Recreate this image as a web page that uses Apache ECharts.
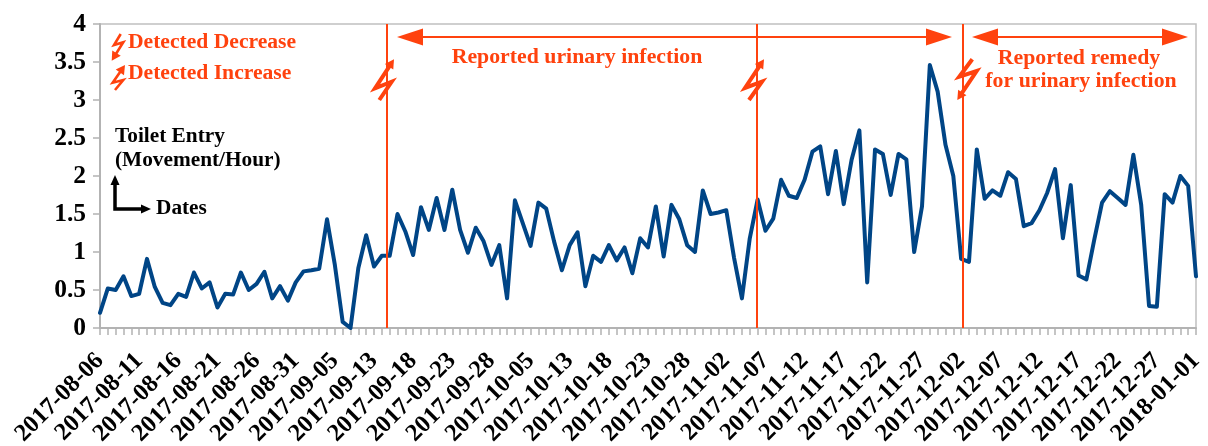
<!DOCTYPE html>
<html><head><meta charset="utf-8">
<style>html,body{margin:0;padding:0;background:#fff}#c{width:1208px;height:446px}</style>
<script src="https://cdn.jsdelivr.net/npm/echarts@6/dist/echarts.min.js"></script>
</head><body><div id="c"></div>
<script>
const dates = [
"2017-08-06","2017-08-07","2017-08-08","2017-08-09","2017-08-10","2017-08-11","2017-08-12","2017-08-13","2017-08-14","2017-08-15",
"2017-08-16","2017-08-17","2017-08-18","2017-08-19","2017-08-20","2017-08-21","2017-08-22","2017-08-23","2017-08-24","2017-08-25",
"2017-08-26","2017-08-27","2017-08-28","2017-08-29","2017-08-30","2017-08-31","2017-09-01","2017-09-02","2017-09-03","2017-09-04",
"2017-09-05","2017-09-06","2017-09-07","2017-09-10","2017-09-11","2017-09-13","2017-09-14","2017-09-15","2017-09-16","2017-09-17",
"2017-09-18","2017-09-19","2017-09-20","2017-09-21","2017-09-22","2017-09-23","2017-09-24","2017-09-25","2017-09-26","2017-09-27",
"2017-09-28","2017-09-29","2017-09-30","2017-10-01","2017-10-03","2017-10-05","2017-10-06","2017-10-08","2017-10-09","2017-10-11",
"2017-10-13","2017-10-14","2017-10-15","2017-10-16","2017-10-17","2017-10-18","2017-10-19","2017-10-20","2017-10-21","2017-10-22",
"2017-10-23","2017-10-24","2017-10-25","2017-10-26","2017-10-27","2017-10-28","2017-10-29","2017-10-30","2017-10-31","2017-11-01",
"2017-11-02","2017-11-03","2017-11-04","2017-11-05","2017-11-06","2017-11-07","2017-11-08","2017-11-09","2017-11-10","2017-11-11",
"2017-11-12","2017-11-13","2017-11-14","2017-11-15","2017-11-16","2017-11-17","2017-11-18","2017-11-19","2017-11-20","2017-11-21",
"2017-11-22","2017-11-23","2017-11-24","2017-11-25","2017-11-26","2017-11-27","2017-11-28","2017-11-29","2017-11-30","2017-12-01",
"2017-12-02","2017-12-03","2017-12-04","2017-12-05","2017-12-06","2017-12-07","2017-12-08","2017-12-09","2017-12-10","2017-12-11",
"2017-12-12","2017-12-13","2017-12-14","2017-12-15","2017-12-16","2017-12-17","2017-12-18","2017-12-19","2017-12-20","2017-12-21",
"2017-12-22","2017-12-23","2017-12-24","2017-12-25","2017-12-26","2017-12-27","2017-12-28","2017-12-29","2017-12-30","2017-12-31",
"2018-01-01"];
const toiletEntry = [
0.20,0.52,0.50,0.68,0.42,0.45,0.91,0.54,0.33,0.30,
0.45,0.41,0.73,0.52,0.60,0.27,0.45,0.44,0.73,0.50,
0.58,0.74,0.39,0.55,0.36,0.60,0.745,0.76,0.78,1.43,
0.83,0.08,0.00,0.79,1.22,0.81,0.95,0.95,1.50,1.27,
0.96,1.59,1.29,1.71,1.29,1.82,1.29,0.99,1.32,1.14,
0.83,1.09,0.39,1.68,1.38,1.08,1.65,1.57,1.14,0.76,
1.09,1.26,0.55,0.95,0.87,1.09,0.89,1.06,0.72,1.18,
1.06,1.60,0.94,1.62,1.43,1.09,1.00,1.81,1.50,1.52,
1.55,0.92,0.39,1.18,1.69,1.28,1.44,1.95,1.74,1.71,
1.95,2.32,2.39,1.76,2.33,1.63,2.21,2.60,0.60,2.35,
2.29,1.75,2.29,2.22,1.00,1.60,3.46,3.11,2.41,2.00,
0.91,0.87,2.35,1.70,1.81,1.74,2.05,1.96,1.34,1.38,
1.55,1.78,2.09,1.18,1.88,0.69,0.64,1.16,1.65,1.80,
1.71,1.62,2.28,1.62,0.29,0.28,1.76,1.65,2.00,1.87,
0.68];
const eventPositions = [36.65, 83.95, 110.2];

const RED = '#ff420e', SERIF = '"Liberation Serif","Times New Roman",serif';
function label(text, x, y, color, size, align) {
  return {type:'text', z:20, x, y:y+1, style:{text, fill:color, font:`bold ${size}px ${SERIF}`, align:align||'left', verticalAlign:'middle'}};
}
function head(tip, from, len, half, color) {
  const dx=tip[0]-from[0], dy=tip[1]-from[1], d=Math.hypot(dx,dy), ux=dx/d, uy=dy/d;
  const bx=tip[0]-ux*len, by=tip[1]-uy*len;
  return {type:'polygon', z:20, shape:{points:[tip,[bx-uy*half,by+ux*half],[bx+uy*half,by-ux*half]]}, style:{fill:color}};
}
function bolt(p, size) {
  return [
    {type:'polyline', z:20, shape:{points:p.slice(0,3).concat([[ (p[2][0]*0.2+p[3][0]*0.8),(p[2][1]*0.2+p[3][1]*0.8)]])}, style:{stroke:RED, lineWidth:size, fill:null, lineJoin:'miter'}},
    head(p[3], p[2], 9, 5, RED)
  ];
}
function span(x1, x2, y) {
  return [
    {type:'line', z:20, shape:{x1:x1+20, y1:y, x2:x2-20, y2:y}, style:{stroke:RED, lineWidth:2}},
    head([x1,y],[x1+10,y],26,8.5,RED), head([x2,y],[x2-10,y],26,8.5,RED)
  ];
}
const graphics = [
  label('Detected Decrease',128,41,RED,21.6),
  label('Detected Increase',128,72,RED,21.6),
  label('Reported urinary infection',577,56,RED,21.8,'center'),
  label('Reported remedy',1079,57,RED,21.8,'center'),
  label('for urinary infection',1081,80,RED,21.8,'center'),
  label('Toilet Entry',115,135,'#000',21.3),
  label('(Movement/Hour)',115,159,'#000',21.3),
  label('Dates',156,207,'#000',21.3),
  ...span(397,952,37), ...span(972,1188,37),
  ...bolt([[120.7,34],[114,45],[123.3,42.3],[111.7,60.7]],2.6),
  ...bolt([[115,90],[123.3,80],[112.7,82.7],[125,65]],2.6),
  ...bolt([[379.3,100],[391.7,81.7],[375,88.3],[394,59.3]],4),
  ...bolt([[749,100],[762,81.7],[745,88],[764,59.3]],4),
  ...bolt([[972.3,59.3],[959.3,76.7],[976.7,71],[957.3,100]],4),
  {type:'polyline', z:20, shape:{points:[[115,184],[115,209],[142,209]]}, style:{stroke:'#000', lineWidth:3.5, fill:null}},
  head([115,175],[115,185],10,4.5,'#000'),
  head([151,209],[141,209],10,4.5,'#000')
];
const chart = echarts.init(document.getElementById('c'), null, {renderer:'canvas'});
chart.setOption({
  animation:false,
  backgroundColor:'#fff',
  grid:{left:100, right:12, top:24, bottom:118, show:true, outerBoundsMode:'none', borderColor:'#c0c0c0', borderWidth:1.5, backgroundColor:'transparent'},
  xAxis:[{
    type:'category', data:dates, boundaryGap:false,
    axisLine:{lineStyle:{color:'#b3b3b3', width:2}},
    axisTick:{interval:0, length:7, lineStyle:{color:'#b3b3b3', width:1.5}},
    axisLabel:{interval:4, rotate:45, margin:29, color:'#000', fontFamily:SERIF, fontWeight:'bold', fontSize:24.5, hideOverlap:false},
    splitLine:{show:false}
  },{type:'value', min:0, max:140, show:false, splitLine:{show:false}}],
  yAxis:{
    type:'value', min:0, max:4, interval:0.5,
    axisLine:{show:true, lineStyle:{color:'#b3b3b3', width:2}},
    axisTick:{show:true, length:7, lineStyle:{color:'#b3b3b3', width:1.5}},
    axisLabel:{margin:14, padding:[3,0,0,0], color:'#000', fontFamily:SERIF, fontWeight:'bold', fontSize:25.5},
    splitLine:{show:false}
  },
  series:[
    {type:'line', data:toiletEntry, showSymbol:false, symbol:'none', smooth:false,
     lineStyle:{color:'#004586', width:4, join:'round', cap:'round'}, z:3},
    {type:'line', xAxisIndex:1, data:[], z:5, symbol:'none',
     markLine:{silent:true, symbol:'none', animation:false, label:{show:false},
       lineStyle:{color:RED, width:2, type:'solid'},
       data:eventPositions.map(v=>({xAxis:v}))}}
  ],
  graphic:graphics
});
</script></body></html>
